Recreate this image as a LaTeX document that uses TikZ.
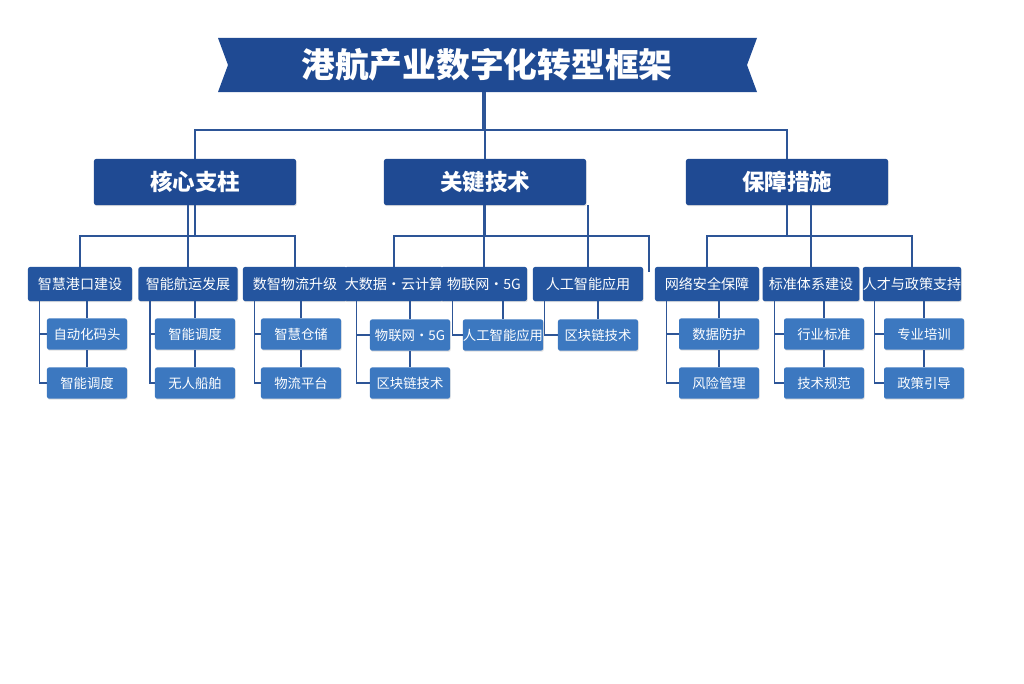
\documentclass[tikz,border=0pt]{standalone}
\usepackage{fontspec}
\setmainfont{Noto Sans CJK SC}
\usepackage{tikz}
\usetikzlibrary{shadows}

\definecolor{navy}{HTML}{1F4A93}
\definecolor{midblue}{HTML}{24559F}
\definecolor{lightblue}{HTML}{3C78C0}
\definecolor{wire}{HTML}{2D5597}

\tikzset{
  box/.style={draw=none,rounded corners=1.5pt,text=white,inner sep=0pt,
    drop shadow={shadow xshift=0.5pt,shadow yshift=-0.8pt,opacity=0.25}},
  pillar/.style={box,fill=navy,minimum width=5.05cm,minimum height=1.15cm,font=\fontsize{16}{18}\selectfont\bfseries},
  branch/.style={box,fill=midblue,minimum height=0.85cm,font=\fontsize{10}{12}\selectfont},
  leaf/.style={box,fill=lightblue,minimum width=2cm,minimum height=0.78cm,font=\fontsize{9.5}{11}\selectfont},
  wire/.style={draw=wire,line width=1.1pt}
}

\begin{document}
\begin{tikzpicture}[x=0.025cm,y=-0.025cm]
  \useasboundingbox (0,0) rectangle (1024,683);
  % title banner
  \fill[navy] (218,38) -- (757,38) -- (747,65) -- (757,92) -- (218,92) -- (228,65) -- cycle;
  \node[text=white,font=\fontsize{24}{28}\selectfont\bfseries] (title) at (487,65) {港航产业数字化转型框架};
  \coordinate (titlefoot) at (483,92);

  % pillars
  \node[pillar] (core) at (195,182) {核心支柱};
  \node[pillar] (tech) at (485,182) {关键技术};
  \node[pillar] (safe) at (787,182) {保障措施};

  % branches
  \node[branch,minimum width=2.6cm] (b11) at (80,284) {智慧港口建设};
  \node[branch,minimum width=2.48cm] (b12) at (188,284) {智能航运发展};
  \node[branch,minimum width=2.6cm] (b13) at (295,284) {数智物流升级};
  \node[branch,minimum width=2cm] (b21) at (394,284) {大数据·云计算};
  \node[branch,minimum width=2.15cm] (b22) at (484,284) {物联网·5G};
  \node[branch,minimum width=2.75cm] (b23) at (588,284) {人工智能应用};
  \node[branch,minimum width=2.6cm] (b31) at (707,284) {网络安全保障};
  \node[branch,minimum width=2.42cm] (b32) at (811,284) {标准体系建设};
  \node[branch,minimum width=2.4cm] (b33) at (912,284) {人才与政策支持};

  % leaves
  \node[leaf] (l111) at (87,334) {自动化码头};
  \node[leaf] (l112) at (87,383) {智能调度};
  \node[leaf] (l121) at (195,334) {智能调度};
  \node[leaf] (l122) at (195,383) {无人船舶};
  \node[leaf] (l131) at (301,334) {智慧仓储};
  \node[leaf] (l132) at (301,383) {物流平台};
  \node[leaf] (l211) at (410,335) {物联网·5G};
  \node[leaf] (l212) at (410,383) {区块链技术};
  \node[leaf] (l221) at (503,335) {人工智能应用};
  \node[leaf] (l231) at (598,335) {区块链技术};
  \node[leaf] (l311) at (719,334) {数据防护};
  \node[leaf] (l312) at (719,383) {风险管理};
  \node[leaf] (l321) at (824,334) {行业标准};
  \node[leaf] (l322) at (824,383) {技术规范};
  \node[leaf] (l331) at (924,334) {专业培训};
  \node[leaf] (l332) at (924,383) {政策引导};

  % title to pillars
  \begin{scope}[on background layer/.try]
  \draw[wire] (titlefoot) -- (483,130) (core.north) |- (483,130) -| (safe.north);
  \draw[wire] (tech.north) -- (tech.north |- titlefoot);

  % pillars to branches
  \draw[wire] (core.south) -- (195,236) (b11.north) |- (195,236) -| (b13.north);
  \draw[wire] (b12.north) -- (b12.north |- core.south);
  \coordinate (stray) at (649,272);
  \draw[wire] (tech.south) -- (485,236) (b21.north) |- (485,236) -| (stray);
  \draw[wire] (b22.north) -- (b22.north |- tech.south);
  \draw[wire] (b23.north) -- (b23.north |- tech.south);
  \draw[wire] (safe.south) -- (787,236) (b31.north) |- (787,236) -| (b33.north);
  \draw[wire] (b32.north) -- (b32.north |- safe.south);

  % branches to leaves
  \foreach \p/\a/\b in {b11/l111/l112,b12/l121/l122,b13/l131/l132,
                        b21/l211/l212,b31/l311/l312,b32/l321/l322,b33/l331/l332}{
    \draw[wire] ([xshift=0.3cm]\p.south west) |- (\b.west);
    \draw[wire] ([xshift=0.3cm]\p.south west) |- (\a.west);
    \draw[wire] (\a.north |- \p.south) -- (\a.north) (\a.south) -- (\b.north);
  }
  \foreach \p/\a in {b22/l221,b23/l231}{
    \draw[wire] ([xshift=0.3cm]\p.south west) |- (\a.west);
    \draw[wire] (\a.north |- \p.south) -- (\a.north);
  }
  \end{scope}
\end{tikzpicture}
\end{document}
